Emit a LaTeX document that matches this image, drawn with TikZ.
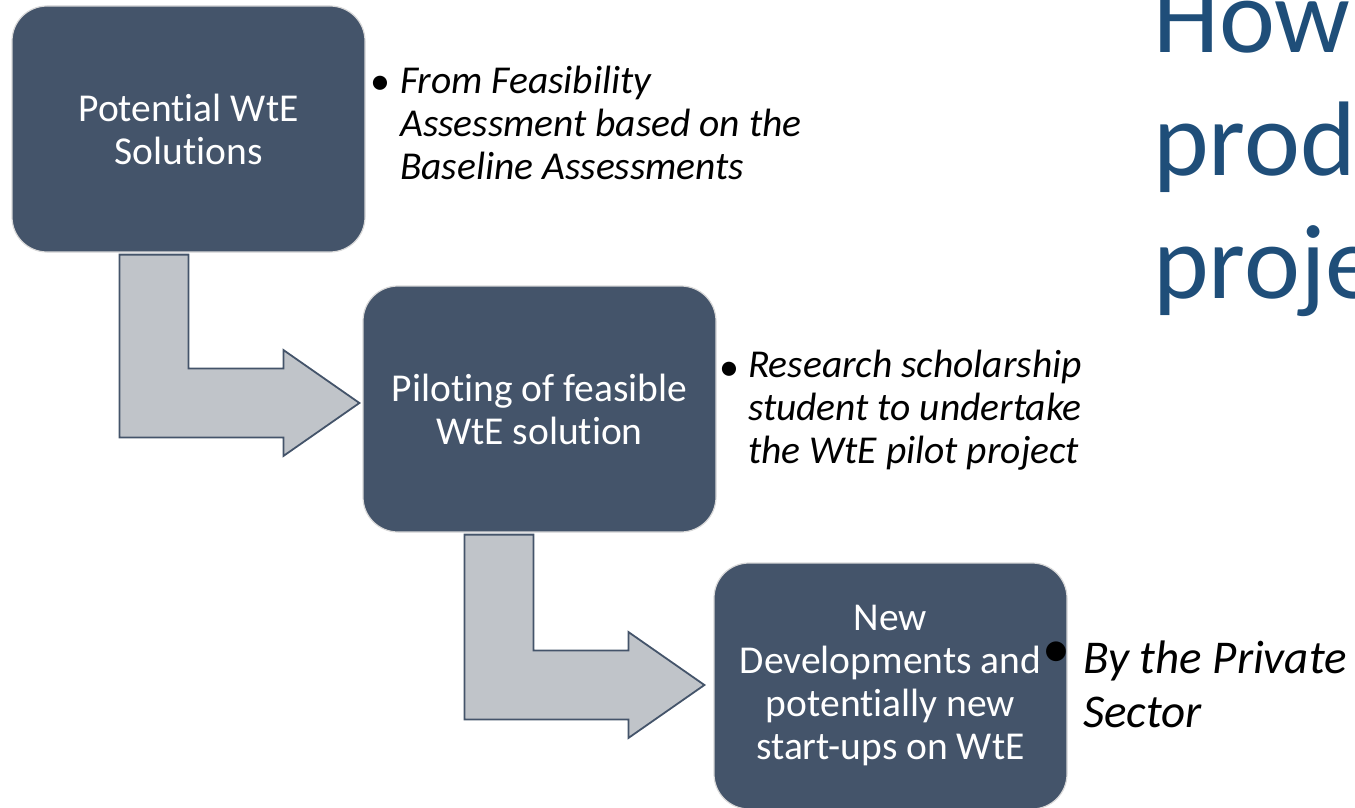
\documentclass[tikz,border=0pt]{standalone}
\usepackage{fontspec}
\setmainfont{Carlito}[Ligatures=NoCommon]
\usetikzlibrary{calc}
\definecolor{boxfill}{HTML}{44546A}
\definecolor{arrowfill}{HTML}{C0C4C9}
\definecolor{titleblue}{HTML}{1F4E79}
\begin{document}
\begin{tikzpicture}[x=1pt,y=-1pt,
  stepbox/.style={draw=black!15, line width=1.2pt, fill=boxfill, rounded corners=35pt,
    minimum width=353pt, minimum height=246pt, inner sep=0pt, align=center,
    text=white, font=\fontsize{39.5}{43}\selectfont},
  blockarrow/.style={draw=boxfill, line width=1.8pt, fill=arrowfill, line join=miter},
  bullettext/.style={anchor=base west, inner sep=0pt, align=left, text=black,
    font=\fontsize{39.5}{43}\selectfont\itshape},
  bulletdot/.style={anchor=base west, inner sep=0pt, text=black,
    font=\fontsize{40}{43}\selectfont},
  title/.style={anchor=base west, inner sep=0pt, align=left, text=titleblue,
    font=\fontsize{106}{123}\selectfont}]
\useasboundingbox (0,0) rectangle (1355,808);
\clip (0,0) rectangle (1355,808);
% box positions (defined first for arrow references, drawn later)
\path (188.5,129) coordinate (c1) (539.5,409) coordinate (c2) (890.5,686) coordinate (c3);
\node[stepbox, draw=none, fill=none] (b1) at (c1) {};
\node[stepbox, draw=none, fill=none] (b2) at (c2) {};
\node[stepbox, draw=none, fill=none] (b3) at (c3) {};
% arrow 1
\path (b1.south west) ++(108,2) coordinate (a1l) ++(69,0) coordinate (a1r);
\coordinate (t1) at ($(b2.west)+(-3,-6)$);
\coordinate (t1u) at ($(t1)+(0,-34.5)$);
\coordinate (t1d) at ($(t1)+(0,34.5)$);
\draw[blockarrow] (a1l) -- (a1r) -- (a1r |- t1u) -- ($(t1u)+(-76,0)$) -- ($(t1)+(-76,-53)$)
  -- (t1) -- ($(t1)+(-76,53)$) -- ($(t1d)+(-76,0)$) -- (a1l |- t1d) -- cycle;
% arrow 2
\path (b2.south west) ++(102,2) coordinate (a2l) ++(69,0) coordinate (a2r);
\coordinate (t2) at ($(b3.west)+(-9,-1)$);
\coordinate (t2u) at ($(t2)+(0,-34.5)$);
\coordinate (t2d) at ($(t2)+(0,34.5)$);
\draw[blockarrow] (a2l) -- (a2r) -- (a2r |- t2u) -- ($(t2u)+(-76,0)$) -- ($(t2)+(-76,-53)$)
  -- (t2) -- ($(t2)+(-76,53)$) -- ($(t2d)+(-76,0)$) -- (a2l |- t2d) -- cycle;
% boxes
\node[stepbox] (p1) at (c1) {Potential WtE\\Solutions};
\node[stepbox] (p2) at (c2) {Piloting of feasible\\WtE solution};
\node[stepbox] (p3) at (c3) {New\\Developments and\\potentially new\\start-ups on WtE};
% bullets (anchor = baseline of last line)
\node[bulletdot] (d1) at (370,95) {•};
\node[bullettext] (l1) at (400,179) {From Feasibility\\Assessment based on the\\Baseline Assessments};
\node[bulletdot] (d2) at (719,380) {•};
\node[bullettext] (l2) at (748,463) {Research scholarship\\student to undertake\\the WtE pilot project};
\node[bulletdot, font=\fontsize{56}{54}\selectfont] (d3) at (1042,667) {•};
\node[bullettext, font=\fontsize{47}{54}\selectfont\itshape] (l3) at (1083,727) {By the Private\\Sector};
% title (cut off at the right edge)
\node[title] (tt) at (1153,298) {How\\prod\\proje};
\end{tikzpicture}
\end{document}
